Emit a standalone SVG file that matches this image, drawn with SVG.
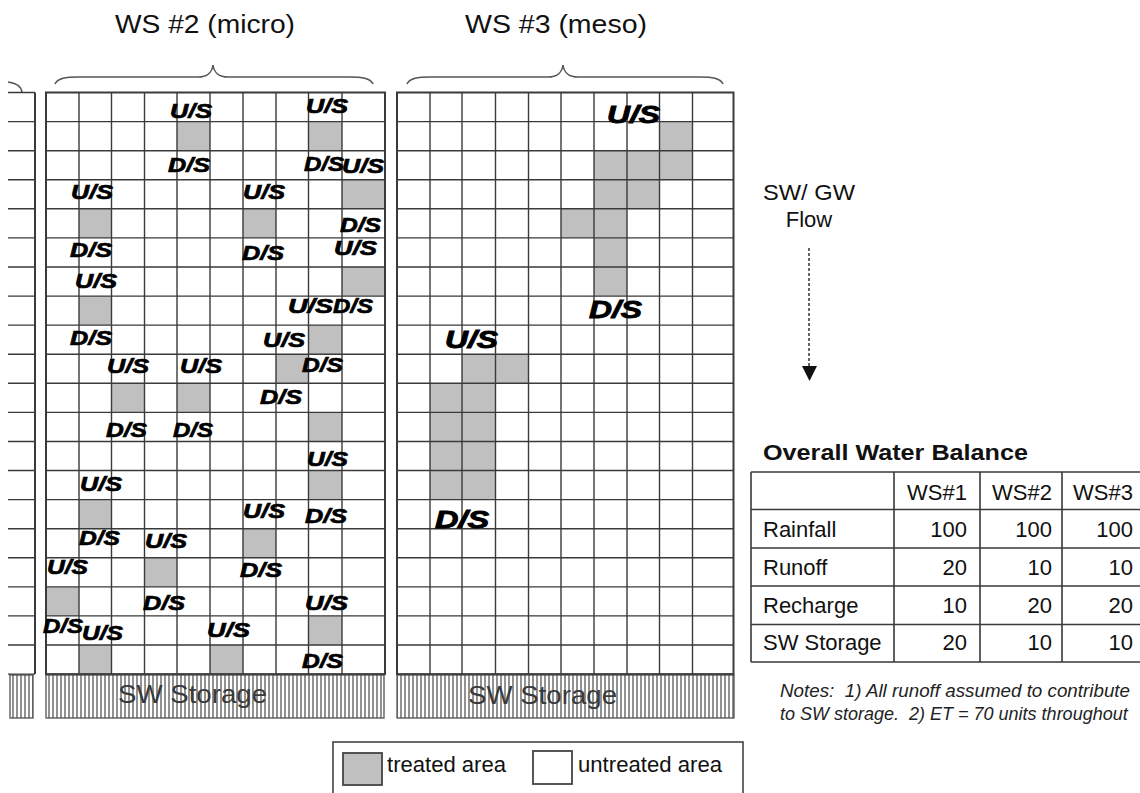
<svg xmlns="http://www.w3.org/2000/svg" width="1140" height="793" viewBox="0 0 1140 793">
<defs>
<pattern id="hatch" patternUnits="userSpaceOnUse" x="0" y="0" width="4" height="10">
<rect width="4" height="10" fill="#ffffff"/>
<line x1="1" y1="0" x2="1" y2="10" stroke="#4a4a4a" stroke-width="1.2"/>
</pattern>
</defs>
<style>
.grid{fill:none;stroke:#3a3a3a;stroke-width:1.4}
.border{fill:none;stroke:#3a3a3a;stroke-width:2}
.sh{fill:#c0c0c0}
.lbl{font-family:"Liberation Sans",Arial,sans-serif;font-weight:bold;font-style:italic;font-size:20px;fill:#000;stroke:#000;stroke-width:0.7}
.lbl3{font-family:"Liberation Sans",Arial,sans-serif;font-weight:bold;font-style:italic;font-size:24px;fill:#000;stroke:#000;stroke-width:0.9}
.title{font-family:"Liberation Sans",Arial,sans-serif;font-size:26px;fill:#111}
.brace{fill:none;stroke:#555;stroke-width:1.6}
.store{fill:url(#hatch);stroke:#444;stroke-width:1.2}
.storetxt{font-family:"Liberation Sans",Arial,sans-serif;font-size:25px;fill:#3a3a3a}
.tt{font-family:"Liberation Sans",Arial,sans-serif;font-size:22px;fill:#111}
.tb{font-family:"Liberation Sans",Arial,sans-serif;font-size:22px;font-weight:bold;fill:#111}
.note{font-family:"Liberation Sans",Arial,sans-serif;font-size:18px;font-style:italic;fill:#222}
.tline{fill:none;stroke:#3a3a3a;stroke-width:1.6}
</style>
<rect width="1140" height="793" fill="#ffffff"/>

<g id="titles">
<text class="title" x="115" y="33" textLength="180" lengthAdjust="spacingAndGlyphs">WS #2 (micro)</text>
<text class="title" x="465" y="33" textLength="182" lengthAdjust="spacingAndGlyphs">WS #3 (meso)</text>
<path class="brace" d="M8,82 C16,83 21,86 22,92"/>
<path class="brace" d="M55,84 C58,78 66,77 78,77 L198,77 C206,77 212,73 213,65 C214,73 220,77 228,77 L350,77 C362,77 370,78 373,84"/>
<path class="brace" d="M407,84 C410,78 418,77 430,77 L548,77 C556,77 562,73 563,65 C564,73 570,77 578,77 L700,77 C712,77 720,78 723,84"/>
</g>

<g id="ws1">
<path class="grid" d="M8,92.5H35M8,121.6H35M8,150.7H35M8,179.7H35M8,208.8H35M8,237.9H35M8,267H35M8,296.1H35M8,325.1H35M8,354.2H35M8,383.3H35M8,412.4H35M8,441.5H35M8,470.5H35M8,499.6H35M8,528.7H35M8,557.8H35M8,586.9H35M8,615.9H35M8,645H35M8,674.1H35"/>
<path class="border" d="M35,92.5V674.1"/>
<rect class="store" x="10" y="675" width="23" height="43"/>
</g>

<g id="ws2">
<rect class="sh" x="177" y="121.6" width="33" height="29.1"/>
<rect class="sh" x="308.5" y="121.6" width="33.5" height="29.1"/>
<rect class="sh" x="342" y="179.7" width="43" height="29.1"/>
<rect class="sh" x="79" y="208.8" width="32.5" height="29.1"/>
<rect class="sh" x="243" y="208.8" width="33" height="29.1"/>
<rect class="sh" x="342" y="267" width="43" height="29.1"/>
<rect class="sh" x="79" y="296.1" width="32.5" height="29.1"/>
<rect class="sh" x="308.5" y="325.1" width="33.5" height="29.1"/>
<rect class="sh" x="276" y="354.2" width="32.5" height="29.1"/>
<rect class="sh" x="111.5" y="383.3" width="33" height="29.1"/>
<rect class="sh" x="177" y="383.3" width="33" height="29.1"/>
<rect class="sh" x="308.5" y="412.4" width="33.5" height="29.1"/>
<rect class="sh" x="308.5" y="470.5" width="33.5" height="29.1"/>
<rect class="sh" x="79" y="499.6" width="32.5" height="29.1"/>
<rect class="sh" x="243" y="528.7" width="33" height="29.1"/>
<rect class="sh" x="144.5" y="557.8" width="32.5" height="29.1"/>
<rect class="sh" x="46" y="586.9" width="33" height="29.1"/>
<rect class="sh" x="308.5" y="615.9" width="33.5" height="29.1"/>
<rect class="sh" x="79" y="645" width="32.5" height="29.1"/>
<rect class="sh" x="210" y="645" width="33" height="29.1"/>
<path class="grid" d="M79,92.5V674.1M111.5,92.5V674.1M144.5,92.5V674.1M177,92.5V674.1M210,92.5V674.1M243,92.5V674.1M276,92.5V674.1M308.5,92.5V674.1M342,92.5V674.1M46,121.6H385M46,150.7H385M46,179.7H385M46,208.8H385M46,237.9H385M46,267H385M46,296.1H385M46,325.1H385M46,354.2H385M46,383.3H385M46,412.4H385M46,441.5H385M46,470.5H385M46,499.6H385M46,528.7H385M46,557.8H385M46,586.9H385M46,615.9H385M46,645H385"/>
<rect class="border" x="46" y="92.5" width="339" height="581.6"/>
<rect class="store" x="46" y="675" width="338" height="43"/>
<text class="storetxt" x="118" y="703" textLength="149" lengthAdjust="spacingAndGlyphs">SW Storage</text>
</g>

<g id="ws2-labels">
<text class="lbl" x="170" y="118" textLength="42" lengthAdjust="spacingAndGlyphs">U/S</text>
<text class="lbl" x="306" y="113" textLength="42" lengthAdjust="spacingAndGlyphs">U/S</text>
<text class="lbl" x="168" y="172" textLength="42" lengthAdjust="spacingAndGlyphs">D/S</text>
<text class="lbl" x="304" y="171" textLength="40" lengthAdjust="spacingAndGlyphs">D/S</text>
<text class="lbl" x="342" y="173" textLength="42" lengthAdjust="spacingAndGlyphs">U/S</text>
<text class="lbl" x="71" y="199" textLength="42" lengthAdjust="spacingAndGlyphs">U/S</text>
<text class="lbl" x="243" y="199" textLength="42" lengthAdjust="spacingAndGlyphs">U/S</text>
<text class="lbl" x="340" y="232" textLength="41" lengthAdjust="spacingAndGlyphs">D/S</text>
<text class="lbl" x="70" y="257" textLength="42" lengthAdjust="spacingAndGlyphs">D/S</text>
<text class="lbl" x="242" y="260" textLength="42" lengthAdjust="spacingAndGlyphs">D/S</text>
<text class="lbl" x="334" y="255" textLength="43" lengthAdjust="spacingAndGlyphs">U/S</text>
<text class="lbl" x="75" y="288" textLength="42" lengthAdjust="spacingAndGlyphs">U/S</text>
<text class="lbl" x="288" y="313" textLength="45" lengthAdjust="spacingAndGlyphs">U/S</text>
<text class="lbl" x="333" y="313" textLength="40" lengthAdjust="spacingAndGlyphs">D/S</text>
<text class="lbl" x="70" y="345" textLength="42" lengthAdjust="spacingAndGlyphs">D/S</text>
<text class="lbl" x="263" y="347" textLength="42" lengthAdjust="spacingAndGlyphs">U/S</text>
<text class="lbl" x="302" y="372" textLength="41" lengthAdjust="spacingAndGlyphs">D/S</text>
<text class="lbl" x="107" y="373" textLength="42" lengthAdjust="spacingAndGlyphs">U/S</text>
<text class="lbl" x="180" y="373" textLength="42" lengthAdjust="spacingAndGlyphs">U/S</text>
<text class="lbl" x="260" y="404" textLength="42" lengthAdjust="spacingAndGlyphs">D/S</text>
<text class="lbl" x="106" y="437" textLength="41" lengthAdjust="spacingAndGlyphs">D/S</text>
<text class="lbl" x="173" y="437" textLength="40" lengthAdjust="spacingAndGlyphs">D/S</text>
<text class="lbl" x="307" y="466" textLength="41" lengthAdjust="spacingAndGlyphs">U/S</text>
<text class="lbl" x="80" y="491" textLength="42" lengthAdjust="spacingAndGlyphs">U/S</text>
<text class="lbl" x="243" y="518" textLength="42" lengthAdjust="spacingAndGlyphs">U/S</text>
<text class="lbl" x="305" y="523" textLength="42" lengthAdjust="spacingAndGlyphs">D/S</text>
<text class="lbl" x="79" y="545" textLength="41" lengthAdjust="spacingAndGlyphs">D/S</text>
<text class="lbl" x="145" y="548" textLength="42" lengthAdjust="spacingAndGlyphs">U/S</text>
<text class="lbl" x="47" y="574" textLength="41" lengthAdjust="spacingAndGlyphs">U/S</text>
<text class="lbl" x="240" y="577" textLength="42" lengthAdjust="spacingAndGlyphs">D/S</text>
<text class="lbl" x="143" y="610" textLength="42" lengthAdjust="spacingAndGlyphs">D/S</text>
<text class="lbl" x="305" y="610" textLength="43" lengthAdjust="spacingAndGlyphs">U/S</text>
<text class="lbl" x="43" y="633" textLength="40" lengthAdjust="spacingAndGlyphs">D/S</text>
<text class="lbl" x="82" y="640" textLength="41" lengthAdjust="spacingAndGlyphs">U/S</text>
<text class="lbl" x="207" y="637" textLength="43" lengthAdjust="spacingAndGlyphs">U/S</text>
<text class="lbl" x="302" y="668" textLength="41" lengthAdjust="spacingAndGlyphs">D/S</text>
</g>

<g id="ws3">
<rect class="sh" x="659.5" y="121.6" width="33" height="29.1"/>
<rect class="sh" x="594" y="150.7" width="98.5" height="29.1"/>
<rect class="sh" x="594" y="179.7" width="65.5" height="29.1"/>
<rect class="sh" x="561" y="208.8" width="66" height="29.1"/>
<rect class="sh" x="594" y="237.9" width="33" height="58.2"/>
<rect class="sh" x="462" y="354.2" width="66.5" height="29.1"/>
<rect class="sh" x="430" y="383.3" width="65.5" height="116.3"/>
<path class="grid" d="M430,92.5V674.1M462,92.5V674.1M495.5,92.5V674.1M528.5,92.5V674.1M561,92.5V674.1M594,92.5V674.1M627,92.5V674.1M659.5,92.5V674.1M692.5,92.5V674.1M397,121.6H733.5M397,150.7H733.5M397,179.7H733.5M397,208.8H733.5M397,237.9H733.5M397,267H733.5M397,296.1H733.5M397,325.1H733.5M397,354.2H733.5M397,383.3H733.5M397,412.4H733.5M397,441.5H733.5M397,470.5H733.5M397,499.6H733.5M397,528.7H733.5M397,557.8H733.5M397,586.9H733.5M397,615.9H733.5M397,645H733.5"/>
<rect class="border" x="397" y="92.5" width="336.5" height="581.6"/>
<rect class="store" x="397" y="675" width="337" height="43"/>
<text class="storetxt" x="468" y="704" textLength="149" lengthAdjust="spacingAndGlyphs">SW Storage</text>
</g>

<g id="ws3-labels">
<text class="lbl3" x="607" y="123" textLength="53" lengthAdjust="spacingAndGlyphs">U/S</text>
<text class="lbl3" x="589" y="318" textLength="53" lengthAdjust="spacingAndGlyphs">D/S</text>
<text class="lbl3" x="445" y="348" textLength="53" lengthAdjust="spacingAndGlyphs">U/S</text>
<text class="lbl3" x="435" y="528" textLength="54" lengthAdjust="spacingAndGlyphs">D/S</text>
</g>

<g id="flow">
<text class="tt" x="809" y="200" text-anchor="middle" textLength="92" lengthAdjust="spacingAndGlyphs">SW/ GW</text>
<text class="tt" x="809" y="227" text-anchor="middle">Flow</text>
</g>

<g id="connectors">
<line x1="809" y1="248" x2="809" y2="367" stroke="#333" stroke-width="1.5" stroke-dasharray="3,2"/>
<polygon points="802,366 817,366 809.5,381" fill="#111"/>
</g>

<g id="table">
<text class="tb" x="763" y="460" textLength="265" lengthAdjust="spacingAndGlyphs">Overall Water Balance</text>
<path class="tline" d="M751,472H1145M751,509.5H1145M751,548H1145M751,586H1145M751,624.5H1145M751,662H1145M751,472V662M894,472V662M980,472V662M1062,472V662"/>
<text class="tt" x="967" y="500" text-anchor="end">WS#1</text>
<text class="tt" x="1052" y="500" text-anchor="end">WS#2</text>
<text class="tt" x="1133" y="500" text-anchor="end">WS#3</text>
<text class="tt" x="763" y="537">Rainfall</text>
<text class="tt" x="763" y="575">Runoff</text>
<text class="tt" x="763" y="613">Recharge</text>
<text class="tt" x="763" y="650">SW Storage</text>
<text class="tt" x="967" y="537" text-anchor="end">100</text>
<text class="tt" x="1052" y="537" text-anchor="end">100</text>
<text class="tt" x="1133" y="537" text-anchor="end">100</text>
<text class="tt" x="967" y="575" text-anchor="end">20</text>
<text class="tt" x="1052" y="575" text-anchor="end">10</text>
<text class="tt" x="1133" y="575" text-anchor="end">10</text>
<text class="tt" x="967" y="613" text-anchor="end">10</text>
<text class="tt" x="1052" y="613" text-anchor="end">20</text>
<text class="tt" x="1133" y="613" text-anchor="end">20</text>
<text class="tt" x="967" y="650" text-anchor="end">20</text>
<text class="tt" x="1052" y="650" text-anchor="end">10</text>
<text class="tt" x="1133" y="650" text-anchor="end">10</text>
</g>

<g id="notes">
<text class="note" x="780" y="697" textLength="350" lengthAdjust="spacingAndGlyphs" xml:space="preserve">Notes:  1) All runoff assumed to contribute</text>
<text class="note" x="780" y="720" xml:space="preserve">to SW storage.  2) ET = 70 units throughout</text>
</g>

<g id="legend">
<rect x="333" y="742" width="410" height="60" fill="#fff" stroke="#444" stroke-width="1.6"/>
<rect x="343" y="753" width="39" height="32" fill="#c0c0c0" stroke="#444" stroke-width="1.8"/>
<text class="tt" x="387" y="772" textLength="119" lengthAdjust="spacingAndGlyphs">treated area</text>
<rect x="533" y="751" width="39" height="33" fill="#fff" stroke="#444" stroke-width="1.8"/>
<text class="tt" x="578" y="772" textLength="144" lengthAdjust="spacingAndGlyphs">untreated area</text>
</g>
</svg>
